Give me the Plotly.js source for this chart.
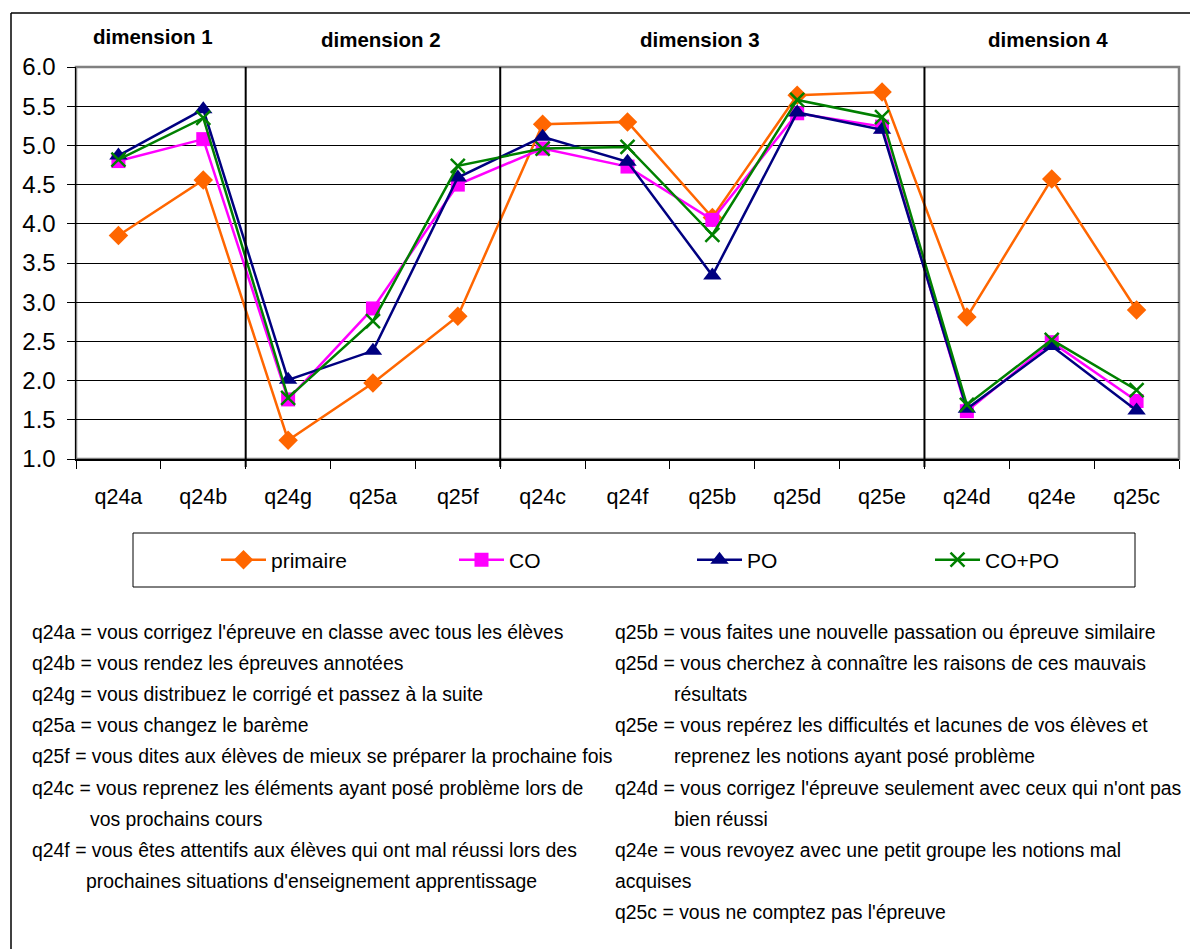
<!DOCTYPE html>
<html>
<head>
<meta charset="utf-8">
<script src="https://cdn.plot.ly/plotly-3.0.1.min.js"></script>
<style>html,body{margin:0;padding:0;background:#fff;}#chart{width:1190px;height:949px;}</style>
</head>
<body>
<div id="chart"></div>
<script>
// ---- data ----
const categories = ["q24a","q24b","q24g","q25a","q25f","q24c","q24f","q25b","q25d","q25e","q24d","q24e","q25c"];
const primaire = [3.85, 4.56, 1.24, 1.97, 2.82, 5.27, 5.30, 4.08, 5.64, 5.68, 2.81, 4.57, 2.90];
const co       = [4.80, 5.08, 1.76, 2.92, 4.50, 4.96, 4.73, 4.05, 5.41, 5.24, 1.61, 2.49, 1.74];
const po       = [4.87, 5.46, 2.01, 2.38, 4.59, 5.11, 4.79, 3.34, 5.42, 5.20, 1.64, 2.44, 1.62];
const copo     = [4.82, 5.35, 1.78, 2.76, 4.74, 4.96, 4.98, 3.86, 5.58, 5.36, 1.69, 2.52, 1.88];
const seriesNames = ["primaire","CO","PO","CO+PO"];
const dimensionLabels = ["dimension 1","dimension 2","dimension 3","dimension 4"];
const yTickVals = [1.0,1.5,2.0,2.5,3.0,3.5,4.0,4.5,5.0,5.5,6.0];
const leftLines = [
  "q24a = vous corrigez l'épreuve en classe avec tous les élèves",
  "q24b = vous rendez les épreuves annotées",
  "q24g = vous distribuez le corrigé et passez à la suite",
  "q25a = vous changez le barème",
  "q25f = vous dites aux élèves de mieux se préparer la prochaine fois",
  "q24c = vous reprenez les éléments ayant posé problème lors de",
  "vos prochains cours",
  "q24f = vous êtes attentifs aux élèves qui ont mal réussi lors des",
  "prochaines situations d'enseignement apprentissage"
];
const rightLines = [
  "q25b = vous faites une nouvelle passation ou épreuve similaire",
  "q25d = vous cherchez à connaître les raisons de ces mauvais",
  "résultats",
  "q25e = vous repérez les difficultés et lacunes de vos élèves et",
  "reprenez les notions ayant posé problème",
  "q24d = vous corrigez l'épreuve seulement avec ceux qui n'ont pas",
  "bien réussi",
  "q24e = vous revoyez avec une petit groupe les notions mal",
  "acquises",
  "q25c = vous ne comptez pas l'épreuve"
];

// ---- layout helpers ----
const W = 1190, H = 949;
const M = {l: 76, r: 11, t: 67, b: 490};
const PW = W - M.l - M.r, PH = H - M.t - M.b;
const px = x => (x - M.l) / PW;
const py = y => (H - M.b - y) / PH;
const FONT = "Liberation Sans, Arial, sans-serif";

const leftIndent = [0,0,0,0,0,0,58,0,54];
const rightIndent = [0,0,59,0,59,0,59,0,0,0];
const lineTop = 632, lineStep = 31.1;

const colors = ["#FF6600","#FF00FF","#000080","#008000"];
const symbols = ["diamond","square","triangle-up","x-thin-open"];
const sizes = [15,14,16,14];
const vals = [primaire, co, po, copo];

const traces = vals.map((v,i) => ({
  type: "scatter", mode: "lines+markers",
  x: categories, y: v, name: seriesNames[i],
  line: {color: colors[i], width: 2.5},
  marker: {color: colors[i], symbol: symbols[i], size: sizes[i],
           line: {color: colors[i], width: i === 3 ? 2.5 : 0}},
  cliponaxis: false
}));

const annotations = [];
const dimPos = [0.41, 3.09, 6.85, 10.96];
const dimY = [36, 40, 40, 40];
dimensionLabels.forEach((t,i) => annotations.push({
  text: "<b>" + t + "</b>", x: dimPos[i], xref: "x", y: py(dimY[i]), yref: "paper",
  showarrow: false, xanchor: "center", yanchor: "middle",
  font: {family: FONT, size: 20.5, color: "#000"}
}));
leftLines.forEach((t,i) => annotations.push({
  text: t, x: px(30 + leftIndent[i]), xref: "paper", y: py(lineTop + i*lineStep), yref: "paper",
  showarrow: false, xanchor: "left", yanchor: "middle",
  font: {family: FONT, size: 19.4, color: "#000"}
}));
rightLines.forEach((t,i) => annotations.push({
  text: t, x: px(613 + rightIndent[i]), xref: "paper", y: py(lineTop + i*lineStep), yref: "paper",
  showarrow: false, xanchor: "left", yanchor: "middle",
  font: {family: FONT, size: 19.4, color: "#000"}
}));

const shapes = [
  // outer frame (top & left)
  {type: "line", xref: "paper", yref: "paper", x0: px(11), x1: px(1190), y0: py(13), y1: py(13), line: {color: "#000", width: 1.5}},
  {type: "line", xref: "paper", yref: "paper", x0: px(11), x1: px(11), y0: py(13), y1: py(949), line: {color: "#000", width: 1.5}},
  // plot area border (gray)
  {type: "rect", xref: "paper", yref: "paper", x0: 0, x1: 1, y0: 0, y1: 1, line: {color: "#808080", width: 2.5}, layer: "below"},
  // legend box
  {type: "rect", xref: "paper", yref: "paper", x0: px(133), x1: px(1135), y0: py(533), y1: py(587), line: {color: "#000", width: 1}, fillcolor: "rgba(0,0,0,0)"}
];
[1.5, 4.5, 9.5].forEach(b => shapes.push({
  type: "line", xref: "x", yref: "paper", x0: b, x1: b, y0: py(467), y1: 1,
  line: {color: "#000", width: 2}
}));

const layout = {
  width: W, height: H,
  margin: M,
  paper_bgcolor: "#fff", plot_bgcolor: "#fff",
  font: {family: FONT, color: "#000"},
  showlegend: true,
  legend: {
    orientation: "h", x: px(216), y: py(560), xanchor: "left", yanchor: "middle",
    xref: "paper", yref: "paper",
    font: {family: FONT, size: 21, color: "#000"},
    entrywidth: 178, entrywidthmode: "pixels",
    bgcolor: "rgba(0,0,0,0)", borderwidth: 0, itemwidth: 45
  },
  xaxis: {
    type: "category", range: [-0.5, 12.5], fixedrange: true,
    tickson: "boundaries", ticks: "outside", ticklen: 8, tickcolor: "#000", tickwidth: 1,
    showline: true, linecolor: "#000", linewidth: 1.5,
    showgrid: false, zeroline: false,
    tickfont: {family: FONT, size: 21.5, color: "#000"}, ticklabelstandoff: 18
  },
  yaxis: {
    range: [1, 6], tickvals: yTickVals, tickformat: ".1f",
    ticks: "outside", ticklen: 8, tickcolor: "#000",
    showline: true, linecolor: "#000", linewidth: 1.5,
    showgrid: true, gridcolor: "#000", gridwidth: 1, zeroline: false,
    tickfont: {family: FONT, size: 24, color: "#000"}, fixedrange: true,
    ticklabelstandoff: 6
  },
  annotations: annotations,
  shapes: shapes
};

Plotly.newPlot("chart", traces, layout, {staticPlot: true, displayModeBar: false});
</script>
</body>
</html>
